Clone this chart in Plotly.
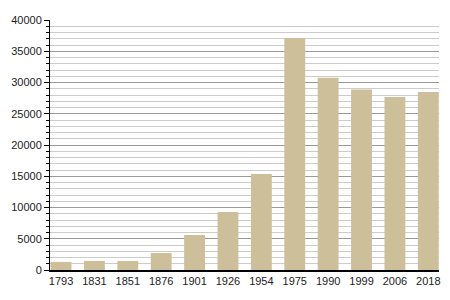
import plotly.graph_objects as go

years = ["1793", "1831", "1851", "1876", "1901", "1926", "1954", "1975", "1990", "1999", "2006", "2018"]
population = [1290, 1450, 1450, 2720, 5600, 9280, 15360, 37120, 30770, 28900, 27680, 28480]

fig = go.Figure(go.Bar(
    x=list(range(len(years))), y=population,
    width=0.625, marker=dict(color="#cdbf9a", line=dict(width=0)),
))
fig.update_layout(
    width=450, height=300,
    margin=dict(l=50, r=9, t=20, b=30),
    paper_bgcolor="white", plot_bgcolor="white",
    font=dict(family="Liberation Sans, Arial, sans-serif", size=11, color="#222"),
    showlegend=False,
)
fig.update_xaxes(
    range=[-0.33, 11.32], tickvals=list(range(len(years))), ticktext=years,
    showline=True, linecolor="black", linewidth=1.5, showgrid=False, ticks="",
    fixedrange=True,
)
fig.update_yaxes(
    range=[0, 40000], dtick=5000, tick0=0, tickformat="d",
    showline=True, linecolor="black", linewidth=1,
    ticks="outside", ticklen=5, tickcolor="black",
    showgrid=True, gridcolor="#999999", gridwidth=1,
    zeroline=False,
    minor=dict(dtick=1000, ticks="outside", ticklen=3, tickcolor="black",
               showgrid=True, gridcolor="#cccccc", gridwidth=1),
)
fig.write_html("out.html")
